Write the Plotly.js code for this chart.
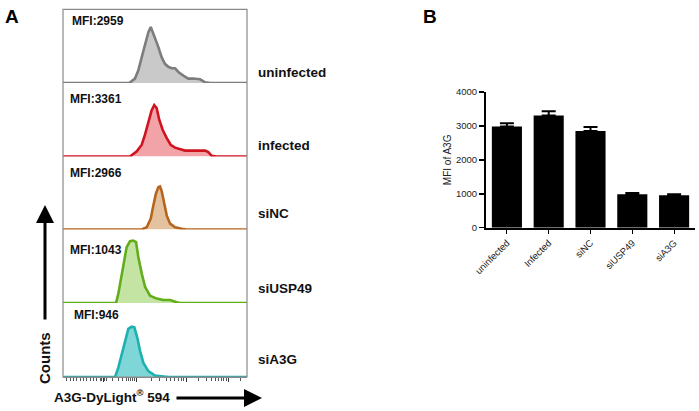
<!DOCTYPE html>
<html>
<head>
<meta charset="utf-8">
<script src="https://cdn.plot.ly/plotly-3.0.1.min.js"></script>
<style>html,body{margin:0;padding:0;background:#fff;}#chart{width:699px;height:411px;}</style>
</head>
<body>
<div id="chart"></div>
<script>
// ---------- Panel A: flow cytometry histograms (channel, relative counts) ----------
const sampleNames = ["uninfected", "infected", "siNC", "siUSP49", "siA3G"];
const mfiLabels = ["MFI:2959", "MFI:3361", "MFI:2966", "MFI:1043", "MFI:946"];

const uninfectedX = [0, 360, 391, 409, 428, 446, 464, 477, 488, 500, 518, 536, 554, 572, 591, 609, 627, 654, 681, 708, 745, 772, 799, 1000];
const uninfectedY = [0, 0, 6, 17, 35, 54, 69, 76, 69, 63, 49, 35, 26, 22, 20, 20, 15, 10, 6, 6, 5, 1, 0, 0];

const infectedX = [0, 364, 401, 428, 446, 464, 482, 496, 509, 523, 542, 564, 585, 609, 636, 663, 690, 717, 745, 772, 790, 808, 835, 1000];
const infectedY = [0, 0, 7, 16, 30, 48, 63, 70, 66, 50, 36, 25, 16, 12, 10, 8, 8, 8, 9, 8, 6, 1, 0, 0];

const siNCX = [0, 428, 455, 477, 491, 505, 518, 527, 536, 549, 564, 582, 609, 645, 672, 1000];
const siNCY = [0, 0, 3, 15, 33, 49, 58, 59, 53, 37, 19, 8, 3, 1, 0, 0];

const siUSP49X = [0, 288, 301, 314, 332, 346, 364, 382, 397, 409, 428, 446, 473, 509, 545, 582, 618, 636, 1000];
const siUSP49Y = [0, 0, 13, 31, 58, 76, 84, 85, 83, 63, 40, 22, 10, 6, 4, 4, 1, 0, 0];

const siA3GX = [0, 283, 301, 319, 337, 355, 373, 388, 404, 419, 437, 464, 500, 545, 572, 1000];
const siA3GY = [0, 0, 13, 31, 51, 65, 68, 67, 53, 35, 19, 8, 2, 1, 0, 0];

// ---------- Panel B: bar chart ----------
const barCategories = ["uninfected", "Infected", "siNC", "siUSP49", "siA3G"];
const barValues = [2980, 3310, 2850, 985, 955];
const barErrors = [100, 125, 120, 40, 30];

// ---------- layout helpers ----------
const W = 699, H = 411;
const px = x => x / W;
const py = y => 1 - y / H;
const FONT = "Liberation Sans, Arial, sans-serif";

const histX = [uninfectedX, infectedX, siNCX, siUSP49X, siA3GX];
const histY = [uninfectedY, infectedY, siNCY, siUSP49Y, siA3GY];
const lineColors = ["#7d7d7d", "#cf1420", "#b5651d", "#62ad1c", "#1fb0b0"];
const fillColors = ["#c9c9c9", "#f2a3a8", "#e5c29f", "#c3e4a3", "#7fd6d6"];
const panelEdges = [9.3, 83, 156.5, 229.5, 303, 377];
const labelY = [72, 145, 213, 288, 359];
const mfiPos = [[70, 21], [68, 99], [68, 173], [68, 250], [72, 315]];

const traces = [];
const layout = {
  width: W, height: H,
  margin: {l: 0, r: 0, t: 0, b: 0},
  paper_bgcolor: "#fff", plot_bgcolor: "rgba(0,0,0,0)",
  showlegend: false,
  font: {family: FONT, color: "#111"},
  annotations: [], shapes: []
};

// major and minor tick positions for the biexponential-like axis (channel units 0-1000 over 63..247 px)
const ch = p => (p - 63) * 1000 / 184;
const majorPx = [103, 136, 186, 228];
const minorPx = [66, 70, 73.3, 76.7, 80, 83.3, 86.7, 90, 93.3, 96.7, 100, 101.5, 104.5, 106];
const decades = [[103, 33], [136, 50], [186, 42], [228, 42]];
decades.forEach(([s, w]) => { for (let k = 2; k <= 9; k++) { const p = s + w * Math.log10(k); if (p < 246) minorPx.push(p); } });

layout.xaxis = {
  domain: [px(63), px(247)], range: [0, 1000], anchor: "y5",
  showgrid: false, zeroline: false, showline: true, linecolor: "#8a8a8a", linewidth: 1,
  tickmode: "array", tickvals: majorPx.map(ch), ticktext: majorPx.map(() => ""),
  ticks: "outside", ticklen: 4, tickwidth: 1, tickcolor: "#333",
  minor: {tickmode: "array", tickvals: minorPx.map(ch), ticks: "outside", ticklen: 2.5, tickwidth: 1, tickcolor: "#555", showgrid: false},
  fixedrange: true
};

for (let i = 0; i < 5; i++) {
  const yk = i === 0 ? "y" : "y" + (i + 1);
  const lk = i === 0 ? "yaxis" : "yaxis" + (i + 1);
  layout[lk] = {
    domain: [py(panelEdges[i + 1]), py(panelEdges[i])], range: [0, 100], anchor: "x",
    showgrid: false, zeroline: false, showline: false, showticklabels: false, ticks: "", fixedrange: true
  };
  traces.push({
    type: "scatter", mode: "lines", x: histX[i], y: histY[i], xaxis: "x", yaxis: yk,
    fill: "tozeroy", fillcolor: fillColors[i],
    line: {color: lineColors[i], width: 2.6}, hoverinfo: "skip"
  });
  layout.annotations.push({
    xref: "paper", yref: "paper", x: px(256), y: py(labelY[i]), xanchor: "left", yanchor: "middle",
    text: "<b>" + sampleNames[i] + "</b>", showarrow: false, font: {size: 13.5, color: "#111", family: FONT}
  });
  layout.annotations.push({
    xref: "paper", yref: "paper", x: px(mfiPos[i][0]), y: py(mfiPos[i][1]), xanchor: "left", yanchor: "middle",
    text: "<b>" + mfiLabels[i] + "</b>", showarrow: false, font: {size: 12, color: "#111", family: FONT}
  });
}

// frame of panel A
layout.shapes.push({type: "rect", xref: "paper", yref: "paper", x0: px(63), x1: px(247), y0: py(377), y1: py(9.3),
  line: {color: "#8a8a8a", width: 1.2}, fillcolor: "rgba(0,0,0,0)"});

// panel letters and axis captions of panel A
layout.annotations.push(
  {xref: "paper", yref: "paper", x: px(3), y: py(17), xanchor: "left", yanchor: "middle", text: "<b>A</b>", showarrow: false, font: {size: 19, color: "#000", family: FONT}},
  {xref: "paper", yref: "paper", x: px(421), y: py(17), xanchor: "left", yanchor: "middle", text: "<b>B</b>", showarrow: false, font: {size: 19, color: "#000", family: FONT}},
  {xref: "paper", yref: "paper", x: px(44), y: py(358), xanchor: "center", yanchor: "middle", textangle: -90, text: "<b>Counts</b>", showarrow: false, font: {size: 15, color: "#111", family: FONT}},
  {xref: "paper", yref: "paper", x: px(52), y: py(396), xanchor: "left", yanchor: "middle", text: "<b>A3G-DyLight<sup>®</sup> 594</b>", showarrow: false, font: {size: 13.5, color: "#111", family: FONT}},
  {xref: "paper", yref: "paper", x: px(45), y: py(205), axref: "pixel", ayref: "pixel", ax: 0, ay: 116, text: "", showarrow: true, arrowhead: 2, arrowsize: 1.2, arrowwidth: 3, arrowcolor: "#000", standoff: 0},
  {xref: "paper", yref: "paper", x: px(262), y: py(398), axref: "pixel", ayref: "pixel", ax: -87, ay: 0, text: "", showarrow: true, arrowhead: 2, arrowsize: 1.2, arrowwidth: 3, arrowcolor: "#000", standoff: 0}
);

// ---------- Panel B ----------
traces.push({
  type: "bar", x: barCategories, y: barValues, xaxis: "x6", yaxis: "y6",
  marker: {color: "#000", line: {width: 0}}, hoverinfo: "skip",
  error_y: {type: "data", array: barErrors, arrayminus: barErrors.map(() => 0), symmetric: false, color: "#000", thickness: 2, width: 7}
});
layout.bargap = 0.28;
layout.xaxis6 = {
  domain: [px(486), px(695)], anchor: "y6", range: [-0.5, 4.5], type: "category",
  showgrid: false, zeroline: false, showline: true, linecolor: "#000", linewidth: 2,
  ticks: "outside", ticklen: 4, tickwidth: 1, tickcolor: "#000", tickangle: -45,
  tickfont: {size: 9.5, color: "#222", family: FONT}, fixedrange: true
};
layout.yaxis6 = {
  domain: [py(227.7), py(92)], anchor: "x6", range: [0, 4000],
  tickvals: [0, 1000, 2000, 3000, 4000], showgrid: false, zeroline: false, showline: true, linecolor: "#000", linewidth: 2,
  ticks: "outside", ticklen: 5, tickwidth: 1.5, tickcolor: "#000",
  tickfont: {size: 9.5, color: "#222", family: FONT},
  title: {text: "MFI of A3G", font: {size: 10, color: "#222", family: FONT}, standoff: 2}, fixedrange: true
};

Plotly.newPlot("chart", traces, layout, {displayModeBar: false, staticPlot: true});
</script>
</body>
</html>
